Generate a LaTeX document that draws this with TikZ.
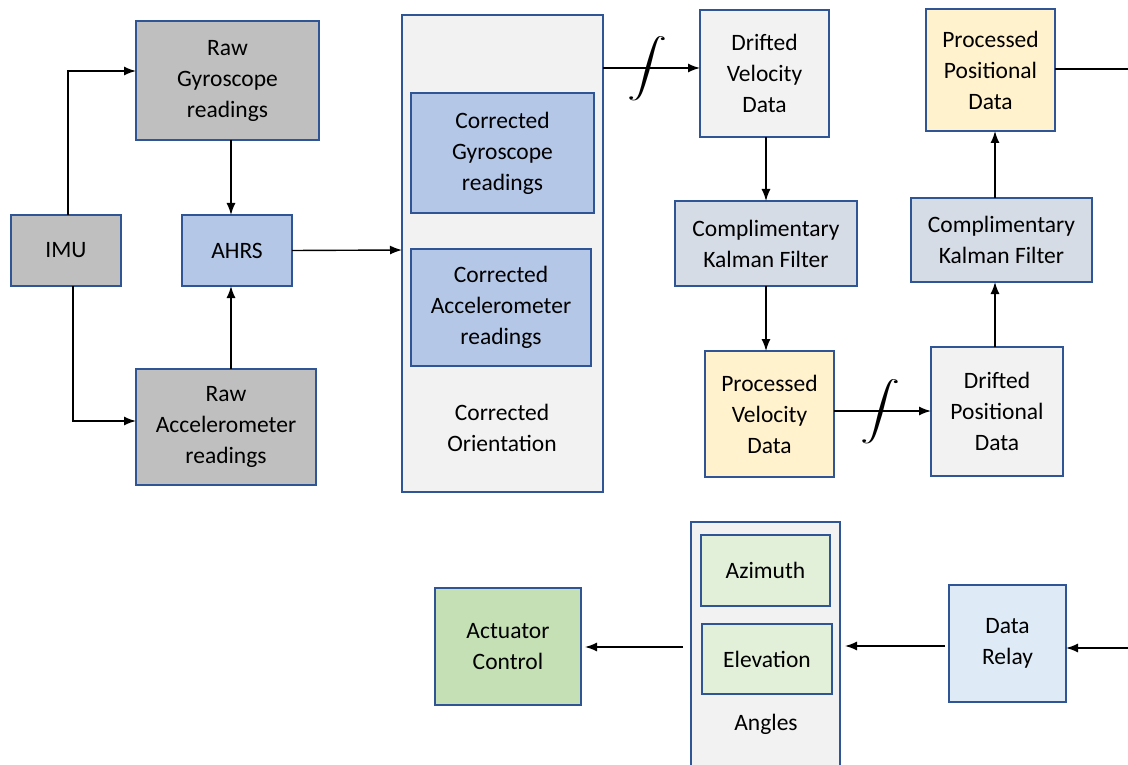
\documentclass[tikz,border=0pt]{standalone}
\usepackage{amsmath}
\usepackage{fontspec}
\setmainfont{Carlito}
\usetikzlibrary{arrows.meta}

\definecolor{bordblue}{HTML}{2F5597}
\definecolor{rawgray}{HTML}{BFBFBF}
\definecolor{ahrsblue}{HTML}{B4C7E7}
\definecolor{palegray}{HTML}{F2F2F2}
\definecolor{filtgray}{HTML}{D6DCE5}
\definecolor{procyel}{HTML}{FFF2CC}
\definecolor{angleg}{HTML}{E2F0D9}
\definecolor{actug}{HTML}{C5E0B4}
\definecolor{relayblue}{HTML}{DEEBF7}

\begin{document}
\begin{tikzpicture}[x=1pt,y=-1pt,
  box/.style n args={3}{draw=bordblue,line width=1.6pt,fill=#1,minimum width=#2,minimum height=#3,
     inner sep=0pt,outer sep=0pt,align=center,font=\fontsize{23.5}{31}\selectfont},
  txt/.style={align=center,inner sep=0pt,font=\fontsize{23.5}{31}\selectfont},
  flow/.style={line width=1.4pt,-{Latex[length=12pt,width=9pt]}}]
\useasboundingbox (0,0) rectangle (1128,765);
\clip (0,0) rectangle (1128,765);

% sensor side
\node[box={rawgray}{183pt}{119pt}] (rawgyro) at (227.5,80.5) {Raw\\Gyroscope\\readings};
\node[box={rawgray}{110pt}{71pt}] (imu) at (66,250.5) {IMU};
\node[box={ahrsblue}{110pt}{71pt}] (ahrs) at (237,250.5) {AHRS};
\node[box={rawgray}{180pt}{116pt}] (rawacc) at (226,427) {Raw\\Accelerometer\\readings};

% orientation block
\node[box={palegray}{201pt}{477pt}] (orient) at (502.5,253.5) {};
\node[box={ahrsblue}{183pt}{120pt}] (corgyro) at (502.5,153) {Corrected\\Gyroscope\\readings};
\node[box={ahrsblue}{180pt}{117pt}] (coracc) at (501,307.5) {Corrected\\Accelerometer\\readings};
\node[txt] (orientlbl) at (502,428) {Corrected\\Orientation};

% velocity / position chain
\node[box={palegray}{129pt}{127pt}] (drvel) at (764.5,73.5) {Drifted\\Velocity\\Data};
\node[box={filtgray}{182pt}{85pt}] (kfvel) at (766,243.5) {Complimentary\\Kalman Filter};
\node[box={procyel}{129pt}{126pt}] (prvel) at (769.5,414) {Processed\\Velocity\\Data};
\node[box={palegray}{132pt}{129pt}] (drpos) at (997,411.5) {Drifted\\Positional\\Data};
\node[box={filtgray}{181pt}{84pt}] (kfpos) at (1001.5,240) {Complimentary\\Kalman Filter};
\node[box={procyel}{129pt}{122pt}] (prpos) at (990.5,70) {Processed\\Positional\\Data};

\node (intvel) at (647,69) {\scalebox{4}[2.9]{$\displaystyle\int$}};
\node (intpos) at (880,412) {\scalebox{4}[2.9]{$\displaystyle\int$}};

% output side
\node[box={palegray}{149pt}{256pt}] (angbox) at (765.5,650) {};
\node[box={angleg}{129pt}{71pt}] (azim) at (765.5,570.5) {Azimuth};
\node[box={angleg}{130pt}{70pt}] (elev) at (767,659) {Elevation};
\node[txt] (anglbl) at (766,724) {Angles};
\node[box={actug}{146pt}{117pt}] (actu) at (508,646.5) {Actuator\\Control};
\node[box={relayblue}{117pt}{117pt}] (relay) at (1007.5,643.5) {Data\\Relay};

\coordinate (pposout) at (1128,69);
\coordinate (relayin) at (1128,648);

% connectors
\draw[flow] ([xshift=2pt]imu.north) |- (rawgyro.west |- 0,71);
\draw[flow] ([xshift=7pt]imu.south) |- (rawacc.west |- 0,421);
\draw[flow] (rawgyro.south -| 231,0) -- (ahrs.north -| 231,0);
\draw[flow] (rawacc.north -| 231,0) -- (ahrs.south -| 231,0);
\draw[flow] (ahrs.east) -- (orient.west |- 0,250);
\draw[flow] (orient.east |- 0,68) -- (drvel.west |- 0,68);
\draw[flow] (drvel.south -| 766,0) -- (kfvel.north);
\draw[flow] (kfvel.south) -- (prvel.north -| 766,0);
\draw[flow] (prvel.east |- 0,411) -- (drpos.west |- 0,411);
\draw[flow] (drpos.north -| 995,0) -- (kfpos.south -| 995,0);
\draw[flow] (kfpos.north -| 995,0) -- (prpos.south -| 995,0);
\draw[line width=1.4pt] (prpos.east |- pposout) -- (pposout);
\draw[flow] (relayin) -- (relay.east |- relayin);
\draw[flow,shorten <=4pt,shorten >=5pt] (relay.west |- 0,646) -- (angbox.east |- 0,646);
\draw[flow,shorten <=8pt,shorten >=4pt] (angbox.west |- 0,647) -- (actu.east |- 0,647);
\end{tikzpicture}
\end{document}
